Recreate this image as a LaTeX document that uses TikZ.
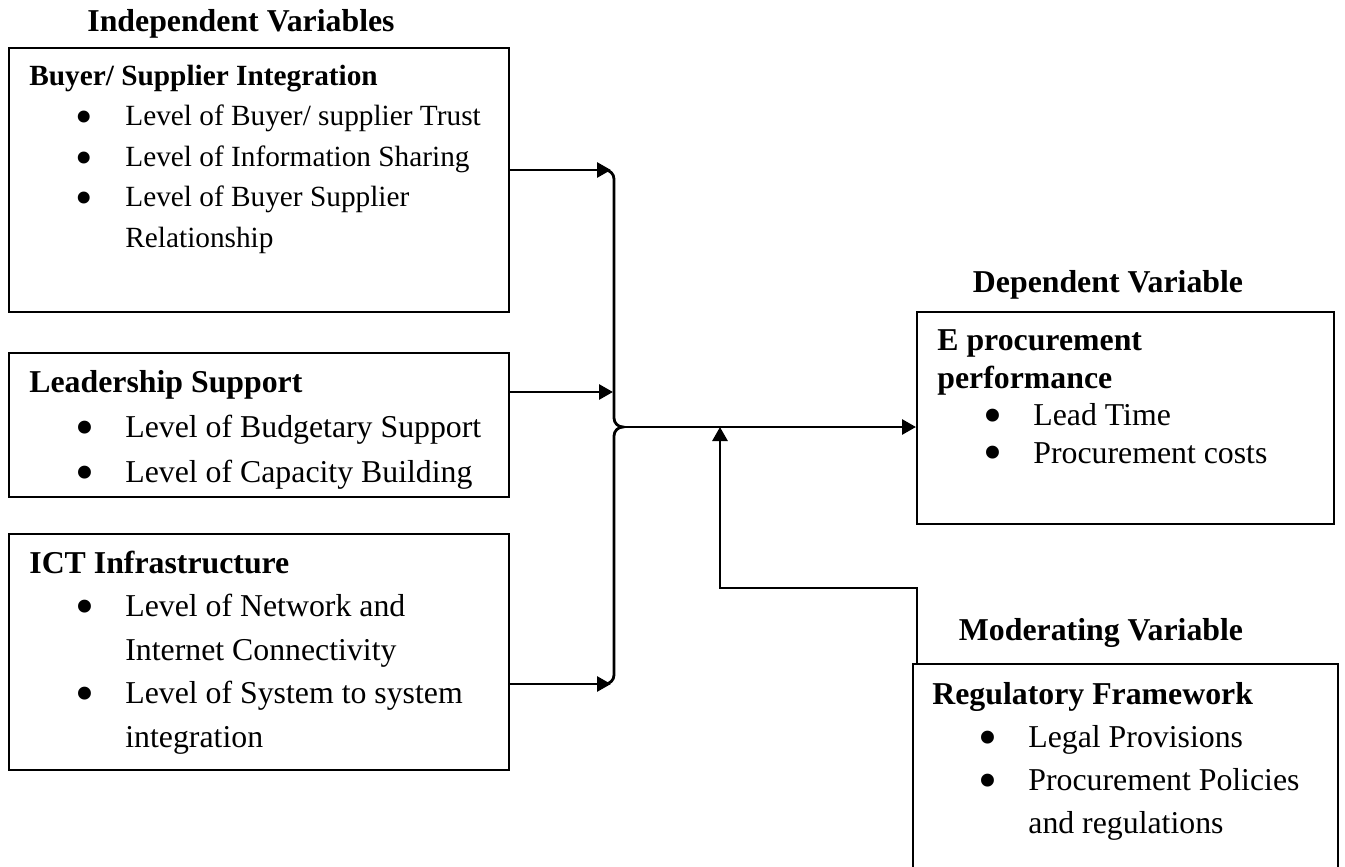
\documentclass[tikz,border=0pt]{standalone}
\usepackage{fontspec}
\setmainfont{Liberation Serif}
\usetikzlibrary{arrows.meta}

\newcommand{\itm}[1]{\makebox[48pt][l]{\hspace{23pt}\smash{\raisebox{-3.8pt}{\scalebox{1.7}{\textbullet}}}}#1}
\newcommand{\cnt}[1]{\hspace*{48pt}#1}
\newcommand{\ttl}[1]{\rule{0pt}{12pt}\textbf{#1}}

\begin{document}
\begin{tikzpicture}[
        x=0.5pt, y=-0.5pt,
        box/.style={rectangle, draw, line width=1pt, anchor=north west, inner sep=0pt},
        txt/.style={anchor=north west, align=left, inner sep=0pt},
        head/.style={anchor=base, font=\fontsize{15.9}{19}\selectfont\bfseries},
        conn/.style={line width=1.4pt, -{Triangle[length=7pt, width=7.5pt]}},
        brace/.style={line width=1.4pt}
    ]
        \useasboundingbox (0,0) rectangle (1345,867);
        \clip (0,0) rectangle (1345,867);

        % headings
        \node[head] (indhead) at (241,32) {Independent Variables};
        \node[head] (dephead) at (1108,292) {Dependent Variable};
        \node[head] (modhead) at (1101,640) {Moderating Variable};

        % independent variables
        \node[box, minimum width=250pt, minimum height=132pt] at (8,47) (bsi) {};
        \node[txt, font=\fontsize{14.65}{20.25}\selectfont] at (29,61) (bsitxt)
            {\ttl{Buyer/ Supplier Integration}\\
             \itm{Level of Buyer/ supplier Trust}\\
             \itm{Level of Information Sharing}\\
             \itm{Level of Buyer Supplier}\\
             \cnt{Relationship}};

        \node[box, minimum width=250pt, minimum height=72pt] at (8,352) (lead) {};
        \node[txt, font=\fontsize{15.9}{22.5}\selectfont] at (29,368) (leadtxt)
            {\ttl{Leadership Support}\\
             \itm{Level of Budgetary Support}\\
             \itm{Level of Capacity Building}};

        \node[box, minimum width=250pt, minimum height=118pt] at (8,533) (ict) {};
        \node[txt, font=\fontsize{15.9}{21.75}\selectfont] at (29,549) (icttxt)
            {\ttl{ICT Infrastructure}\\
             \itm{Level of Network and}\\
             \cnt{Internet Connectivity}\\
             \itm{Level of System to system}\\
             \cnt{integration}};

        % dependent variable
        \node[box, minimum width=208.5pt, minimum height=106pt] at (916,311) (dep) {};
        \node[txt, font=\fontsize{15.9}{18.8}\selectfont] at (937,326) (deptxt)
            {\ttl{E procurement}\\
             \textbf{performance}\\
             \itm{Lead Time}\\
             \itm{Procurement costs}};

        % moderating variable
        \node[box, minimum width=212.5pt, minimum height=130pt] at (912,663) (reg) {};
        \node[txt, font=\fontsize{15.9}{21.5}\selectfont] at (932,680) (regtxt)
            {\ttl{Regulatory Framework}\\
             \itm{Legal Provisions}\\
             \itm{Procurement Policies}\\
             \cnt{and regulations}};

        % brace
        \coordinate (tip) at (623,427);
        \coordinate (b1) at (611,170);
        \coordinate (b2) at (613,392);
        \coordinate (b3) at (611,684);
        \draw[brace] (605,170) to[out=0,in=90] (614,179) -- (614,418)
            to[out=-90,in=180] (tip) to[out=180,in=90] (614,436) -- (614,675)
            to[out=-90,in=0] (605,684);

        % arrows
        \draw[conn] (bsi.east |- b1) -- (b1);
        \draw[conn] (lead.east |- b2) -- (b2);
        \draw[conn] (ict.east |- b3) -- (b3);
        \draw[conn] (tip) -- (tip -| dep.west);

        \coordinate (mj) at (720,427);
        \coordinate (mbend) at (917,588);
        \draw[conn] (mbend |- reg.north) -- (mbend) -| (mj);
    \end{tikzpicture}
\end{document}
